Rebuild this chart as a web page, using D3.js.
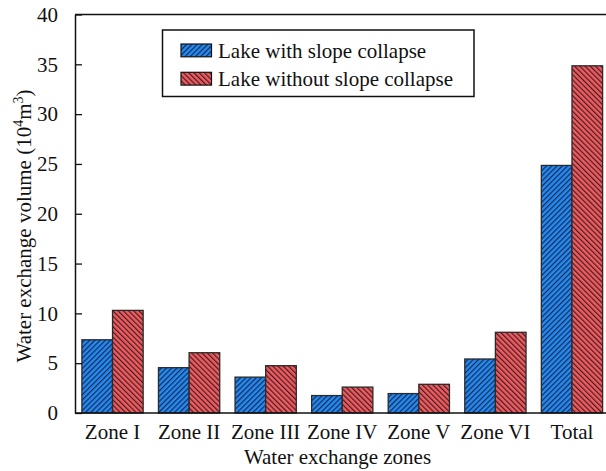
<!DOCTYPE html>
<html>
<head>
<meta charset="utf-8">
<script src="https://cdn.jsdelivr.net/npm/d3@7/dist/d3.min.js"></script>
<style>
  html, body { margin: 0; padding: 0; background: #fff; }
  svg { display: block; }
  svg text { font-family: "Liberation Serif", "Times New Roman", serif; }
</style>
</head>
<body>
<svg id="chart" width="606" height="471"></svg>
<script>
// Water exchange volume per zone (10^4 m^3)
const zones = ["Zone I", "Zone II", "Zone III", "Zone IV", "Zone V", "Zone VI", "Total"];
const withCollapse = [7.35, 4.55, 3.6, 1.75, 1.95, 5.42, 24.85];
const withoutCollapse = [10.3, 6.05, 4.75, 2.6, 2.88, 8.1, 34.85];
const seriesNames = ["Lake with slope collapse", "Lake without slope collapse"];
const yTicks = [0, 5, 10, 15, 20, 25, 30, 35, 40];

const FONT = "Liberation Serif";
const svg = d3.select("#chart");
const plotLeft = 75, plotBottom = 413, plotTop = 14.5, plotRight = 609.5;

const x = d3.scaleBand().domain(zones).range([plotLeft, plotRight])
  .paddingInner(0.2).paddingOuter(0.09);
const xSub = d3.scaleBand().domain([0, 1]).range([0, x.bandwidth()]);
const y = d3.scaleLinear().domain([0, 40]).range([plotBottom, plotTop]);

// Hatch patterns: blue "///", red "\\\"
const defs = svg.append("defs");
function hatch(id, base, angle) {
  const s = 3.7;
  const p = defs.append("pattern").attr("id", id)
    .attr("patternUnits", "userSpaceOnUse")
    .attr("width", s).attr("height", s)
    .attr("patternTransform", `rotate(${angle})`);
  p.append("rect").attr("width", s).attr("height", s).attr("fill", base);
  p.append("line").attr("x1", 0.6).attr("y1", 0).attr("x2", 0.6).attr("y2", s)
    .attr("stroke", "#202030").attr("stroke-width", 1.1);
}
hatch("hatchBlue", "#1f8af9", 45);
hatch("hatchRed", "#f85858", -45);
const fills = ["url(#hatchBlue)", "url(#hatchRed)"];

// Bars
const series = [withCollapse, withoutCollapse];
series.forEach((vals, si) => {
  svg.append("g").selectAll("rect").data(zones).join("rect")
    .attr("x", (d) => x(d) + xSub(si))
    .attr("y", (d, i) => y(vals[i]))
    .attr("width", xSub.bandwidth())
    .attr("height", (d, i) => y(0) - y(vals[i]))
    .attr("fill", fills[si])
    .attr("stroke", "#2a2a2a").attr("stroke-width", 1.3);
});

// Frame lines (top and bottom)
svg.append("line").attr("x1", plotLeft).attr("x2", 620).attr("y1", plotTop).attr("y2", plotTop)
  .attr("stroke", "#111").attr("stroke-width", 1.5);
svg.append("line").attr("x1", plotLeft).attr("x2", 620).attr("y1", plotBottom).attr("y2", plotBottom)
  .attr("stroke", "#111").attr("stroke-width", 1.5);

// Y axis with inward ticks
const yAxis = svg.append("g").attr("transform", `translate(${plotLeft},0)`)
  .call(d3.axisLeft(y).tickValues(yTicks).tickSizeInner(-7).tickSizeOuter(0).tickPadding(17));
yAxis.attr("font-family", FONT);
yAxis.select(".domain").attr("stroke", "#111").attr("stroke-width", 1.5);
yAxis.selectAll(".tick line").attr("stroke", "#111").attr("stroke-width", 1.3);
yAxis.selectAll(".tick text").attr("font-size", 21).attr("fill", "#111")
  .attr("font-family", FONT);

// X axis labels (no tick marks)
const xAxis = svg.append("g").attr("transform", `translate(0,${plotBottom})`)
  .call(d3.axisBottom(x).tickSize(0).tickPadding(10));
xAxis.attr("font-family", FONT);
xAxis.select(".domain").remove();
xAxis.selectAll(".tick text").attr("font-size", 21).attr("fill", "#111")
  .attr("font-family", FONT).attr("dy", "0.75em");

// Axis titles
svg.append("text").attr("x", 337.5).attr("y", 464).attr("text-anchor", "middle")
  .attr("font-family", FONT).attr("font-size", 21).attr("fill", "#111")
  .text("Water exchange zones");

const yt = svg.append("text")
  .attr("transform", "translate(31,226) rotate(-90)")
  .attr("text-anchor", "middle").attr("font-family", FONT)
  .attr("font-size", 21).attr("fill", "#111");
yt.append("tspan").text("Water exchange volume (10");
yt.append("tspan").attr("dy", -8).attr("font-size", 14).text("4");
yt.append("tspan").attr("dy", 8).text("m");
yt.append("tspan").attr("dy", -8).attr("font-size", 14).text("3");
yt.append("tspan").attr("dy", 8).text(")");

// Legend
const lg = svg.append("g");
lg.append("rect").attr("x", 162.5).attr("y", 30).attr("width", 311.5).attr("height", 66.5)
  .attr("fill", "#fff").attr("stroke", "#111").attr("stroke-width", 1.5);
seriesNames.forEach((name, i) => {
  const yy = 44 + i * 28.3;
  lg.append("rect").attr("x", 181).attr("y", yy).attr("width", 30.5).attr("height", 12.8)
    .attr("fill", fills[i]).attr("stroke", "#111").attr("stroke-width", 1.2);
  lg.append("text").attr("x", 218).attr("y", yy + 14)
    .attr("font-family", FONT).attr("font-size", 21)
    .attr("fill", "#111").text(name);
});
</script>
</body>
</html>
